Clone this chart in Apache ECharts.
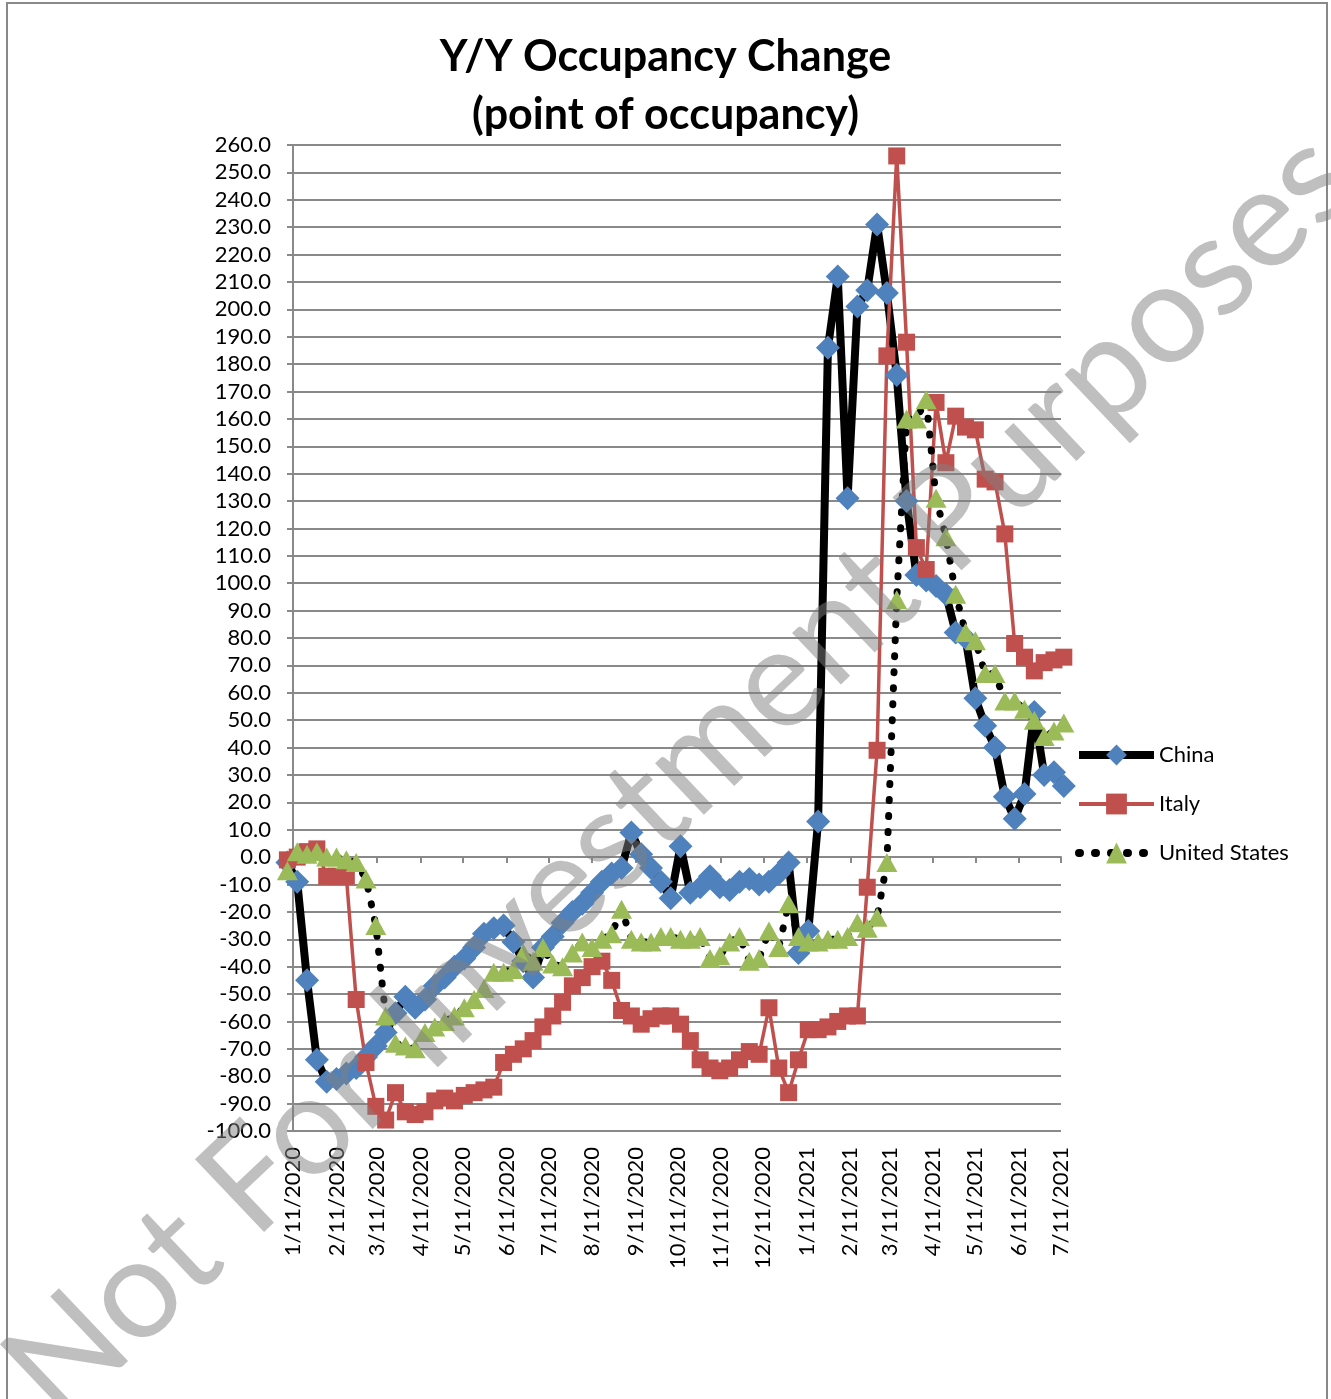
<!DOCTYPE html>
<html>
<head>
<meta charset="utf-8">
<script src="https://cdn.jsdelivr.net/npm/echarts@6/dist/echarts.min.js"></script>
<style>
html, body { margin: 0; padding: 0; background: #fff; }
#main { width: 1331px; height: 1399px; }
</style>
</head>
<body>
<div id="main"></div>
<script>
// weekly observations, first week ending 2020-01-07
var firstWeek = [2020, 0, 7];
var weekCount = 80;

// month tick labels on the x axis
var tickLabels = ['1/11/2020', '2/11/2020', '3/11/2020', '4/11/2020', '5/11/2020', '6/11/2020',
	'7/11/2020', '8/11/2020', '9/11/2020', '10/11/2020', '11/11/2020', '12/11/2020',
	'1/11/2021', '2/11/2021', '3/11/2021', '4/11/2021', '5/11/2021', '6/11/2021', '7/11/2021'];

var china = [-2, -9, -45, -74, -82, -81, -79, -77, -73, -69,
	-64, -57, -51, -55, -52, -47, -44, -40, -37, -33,
	-28, -26, -25, -31, -38, -44, -33, -29, -24, -20,
	-17, -13, -9, -6, -4, 9, 1, -4, -9, -15,
	4, -13, -11, -7, -11, -12, -9, -8, -10, -9,
	-6, -2, -35, -27, 13, 186, 212, 131, 201, 207,
	231, 206, 176, 130, 103, 101, 99, 96, 82, 80,
	58, 48, 40, 22, 14, 23, 53, 30, 31, 26];

var italy = [-1, 0, 2, 3, -7, -7, -7, -52, -75, -91,
	-96, -86, -93, -94, -93, -89, -88, -89, -87, -86,
	-85, -84, -75, -72, -70, -67, -62, -58, -53, -47,
	-44, -40, -38, -45, -56, -58, -61, -59, -58, -58,
	-61, -67, -74, -77, -78, -77, -74, -71, -72, -55,
	-77, -86, -74, -63, -63, -62, -60, -58, -58, -11,
	39, 183, 256, 188, 113, 105, 166, 144, 161, 157,
	156, 138, 137, 118, 78, 73, 68, 71, 72, 73];

var unitedStates = [-5, 2, 1, 2, 0, 0, -1, -2, -8, -25,
	-58, -68, -69, -70, -64, -62, -60, -58, -55, -52,
	-48, -42, -42, -41, -35, -38, -33, -39, -40, -35,
	-31, -33, -30, -28, -19, -30, -31, -31, -29, -29,
	-30, -30, -29, -37, -36, -31, -29, -38, -37, -27,
	-33, -17, -29, -31, -31, -30, -30, -29, -24, -26,
	-22, -2, 94, 160, 160, 167, 131, 117, 96, 82,
	79, 67, 67, 57, 57, 54, 50, 44, 46, 49];

var FONT = 'Lato';
var GREY = '#898989';
var DOTS = [1, 15];

var weekDates = [];
for (var i = 0; i < weekCount; i++) {
	weekDates.push(new Date(firstWeek[0], firstWeek[1], firstWeek[2] + 7 * i).getTime());
}
var tickValues = tickLabels.map(function (s) {
	var p = s.split('/');
	return new Date(+p[2], +p[0] - 1, +p[1]).getTime();
});
function pairs(vals) {
	return vals.map(function (v, i) { return [weekDates[i], v]; });
}
function dateLabel(val) {
	var idx = tickValues.indexOf(val);
	return idx >= 0 ? tickLabels[idx] : '';
}

var chart = echarts.init(document.getElementById('main'));
var option = {
	animation: false,
	backgroundColor: '#fff',
	title: {
		text: 'Y/Y Occupancy Change\n(point of occupancy)',
		left: 'center',
		top: 23,
		textStyle: { fontFamily: FONT, fontSize: 43, fontWeight: 'bold', color: '#000', lineHeight: 58 }
	},
	legend: {
		orient: 'vertical',
		left: 1075,
		top: 744,
		padding: 0,
		itemWidth: 75,
		itemHeight: 26,
		itemGap: 27,
		textStyle: { fontFamily: FONT, fontSize: 22, color: '#000' },
		data: [
			{ name: 'China', lineStyle: { width: 8 } },
			{ name: 'Italy', lineStyle: { width: 4 } },
			{ name: 'United States', lineStyle: { width: 8, type: DOTS, cap: 'round' } }
		]
	},
	grid: { left: 293, top: 145, width: 768, height: 986, containLabel: false },
	xAxis: [{
		type: 'value',
		min: tickValues[0],
		max: tickValues[tickValues.length - 1],
		axisLine: { onZero: true, lineStyle: { color: GREY, width: 2 } },
		axisTick: { show: true, length: 6, customValues: tickValues, lineStyle: { color: GREY, width: 2 } },
		axisLabel: { show: false },
		splitLine: { show: false }
	}, {
		type: 'value',
		position: 'bottom',
		min: tickValues[0],
		max: tickValues[tickValues.length - 1],
		axisLine: { show: false, onZero: false },
		axisTick: { show: false },
		axisLabel: {
			customValues: tickValues,
			rotate: 90,
			margin: 16,
			fontFamily: FONT,
			fontSize: 22,
			color: '#000',
			formatter: dateLabel
		},
		splitLine: { show: false }
	}],
	yAxis: {
		type: 'value',
		min: -100,
		max: 260,
		interval: 10,
		axisLine: { show: true, lineStyle: { color: GREY, width: 2 } },
		axisTick: { show: true, length: 6, lineStyle: { color: GREY, width: 2 } },
		axisLabel: {
			margin: 22,
			fontFamily: FONT,
			fontSize: 22,
			color: '#000',
			formatter: function (v) { return v.toFixed(1); }
		},
		splitLine: { lineStyle: { color: GREY, width: 2 } }
	},
	series: [{
		name: 'China',
		type: 'line',
		xAxisIndex: 0,
		data: pairs(china),
		clip: false,
		symbol: 'diamond',
		symbolSize: 24,
		itemStyle: { color: '#4F81BD' },
		lineStyle: { color: '#000', width: 8 }
	}, {
		name: 'Italy',
		type: 'line',
		xAxisIndex: 0,
		data: pairs(italy),
		clip: false,
		symbol: 'rect',
		symbolSize: 17,
		itemStyle: { color: '#C0504D' },
		lineStyle: { color: '#C0504D', width: 3.5 }
	}, {
		name: 'United States',
		type: 'line',
		xAxisIndex: 0,
		data: pairs(unitedStates),
		clip: false,
		symbol: 'triangle',
		symbolSize: [21, 19],
		itemStyle: { color: '#9BBB59' },
		lineStyle: { color: '#000', width: 7, type: DOTS, cap: 'round' }
	}],
	graphic: [{
		type: 'rect',
		z: 0,
		shape: { x: 7, y: 3, width: 1320, height: 1420 },
		style: { fill: null, stroke: GREY, lineWidth: 2 }
	}, {
		type: 'text',
		z: 100,
		x: 680,
		y: 775,
		rotation: 43.5 * Math.PI / 180,
		style: {
			text: 'Not For Investment Purposes',
			fontFamily: FONT,
			fontSize: 140,
			fill: 'rgba(128,128,128,0.5)',
			align: 'center',
			verticalAlign: 'middle'
		}
	}]
};
chart.setOption(option);
</script>
</body>
</html>
